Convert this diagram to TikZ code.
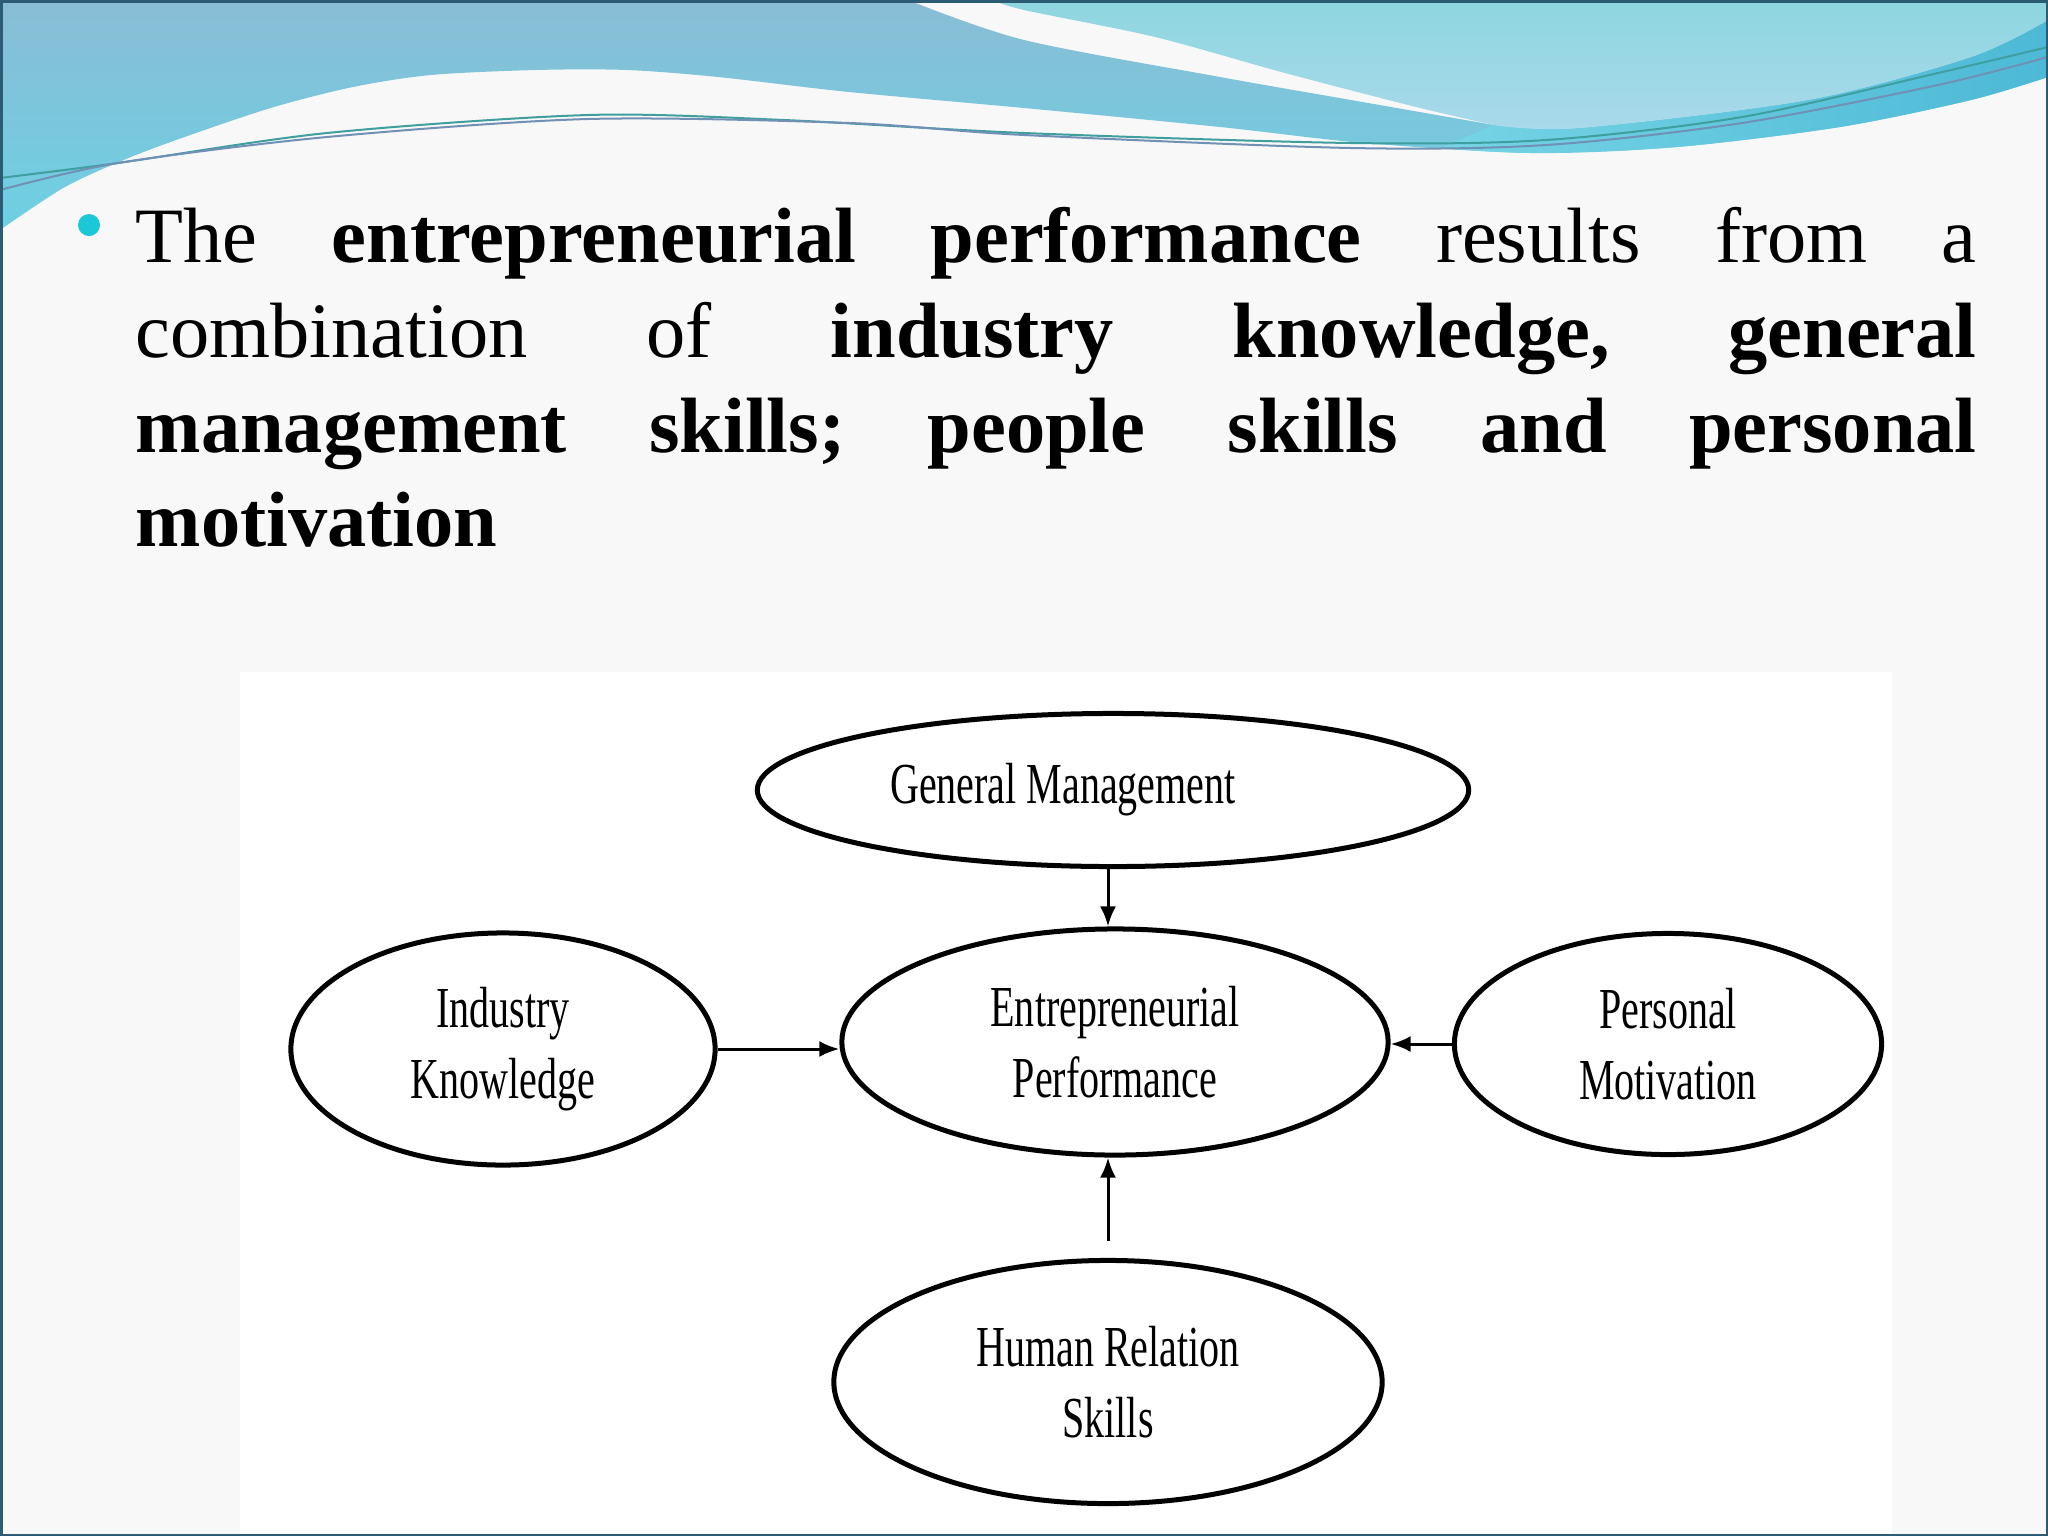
\documentclass[tikz,border=0pt]{standalone}
\usepackage{fontspec}
\setmainfont{Liberation Serif}
\newfontfamily\labelfont[FakeStretch=0.69]{Liberation Serif}
\usetikzlibrary{shapes.geometric,arrows.meta}
\frenchspacing
\definecolor{slidebg}{HTML}{F8F8F8}
\definecolor{framecol}{HTML}{2B5C73}
\definecolor{bandtop}{HTML}{89BDD5}
\definecolor{bandlow}{HTML}{6DD0E3}
\definecolor{fieldtop}{HTML}{8DD6DF}
\definecolor{fieldlow}{HTML}{AAD9EC}
\definecolor{stripleft}{HTML}{76D4E5}
\definecolor{stripright}{HTML}{4DB9D6}
\definecolor{linea}{HTML}{3F9E9E}
\definecolor{lineb}{HTML}{7090B5}
\definecolor{dotcyan}{HTML}{1CC8D8}
\tikzset{
  factor/.style={ellipse, draw, line width=0.05cm, inner sep=0pt, align=center,
    font=\labelfont\fontsize{16.5}{20}\selectfont},
  feeds/.style={line width=0.03cm, -{Latex[length=0.2cm,width=0.16cm]}}
}
\begin{document}
\begin{tikzpicture}[x=0.01cm,y=-0.01cm]
\useasboundingbox (0,0) rectangle (2048,1536);
\fill[slidebg] (0,0) rectangle (2048,1536);
% wave at the top
\shade[top color=bandtop, bottom color=bandlow] (0,0) -- (908,0)
  -- plot[smooth] coordinates {(908,0) (1024,40) (1220,77) (1351,100) (1494,125)}
  -- plot[smooth] coordinates {(1494,125) (1579,128) (1808,100) (1971,57) (2048,20)}
  -- (2048,77)
  -- plot[smooth] coordinates {(2048,77) (1971,100) (1840,127) (1677,147) (1533,153) (1364,143) (1220,127) (1024,108) (849,92) (718,77) (627,70) (536,70) (431,75) (353,87) (274,107) (196,133) (131,157) (65,187) (0,230)}
  -- cycle;
\shade[left color=stripleft, right color=stripright] (1494,125)
  -- plot[smooth] coordinates {(1494,125) (1579,128) (1808,100) (1971,57) (2048,20)}
  -- (2048,77)
  -- plot[smooth] coordinates {(2048,77) (1971,100) (1840,127) (1677,147) (1533,153) (1440,148)}
  -- cycle;
\shade[top color=fieldtop, bottom color=fieldlow] (993,0) -- (2048,0) -- (2048,20)
  -- plot[smooth] coordinates {(2048,20) (1971,57) (1808,100) (1579,128) (1494,125)}
  -- plot[smooth] coordinates {(1494,125) (1416,107) (1285,73) (1155,37) (1024,10) (993,0)}
  -- cycle;
\draw[linea, line width=0.02cm] plot[smooth] coordinates {(0,178) (118,163) (327,133) (588,115) (784,120) (1024,133) (1351,143) (1546,140) (1742,117) (1938,73) (2048,47)};
\draw[lineb, line width=0.02cm] plot[smooth] coordinates {(0,190) (118,163) (327,137) (588,119) (849,123) (1024,135) (1351,148) (1546,145) (1742,123) (1938,85) (2048,57)};
% bullet text
\node[circle, fill=dotcyan, inner sep=0pt, minimum size=0.22cm] (dot) at (89,225) {};
\node[anchor=north west, inner sep=0pt, text width=18.4cm, align=justify,
  font=\fontsize{22.3}{26.9}\selectfont] (claim) at (135,207)
  {The \textbf{entrepreneurial performance} results from a\linebreak
   combination of \textbf{industry knowledge, general\linebreak
   management skills; people skills and personal\linebreak
   motivation}};
% diagram
\fill[white] (240,672) rectangle (1892,1534);
\node[factor, minimum width=7.11cm, minimum height=1.53cm] (gm) at (1113,790) {\hspace*{-1cm}General Management};
\node[factor, minimum width=5.46cm, minimum height=2.26cm] (ep) at (1115,1042) {Entrepreneurial\\Performance};
\node[factor, minimum width=4.24cm, minimum height=2.32cm] (ik) at (503,1049) {Industry\\Knowledge};
\node[factor, minimum width=4.27cm, minimum height=2.21cm] (pm) at (1668,1044) {Personal\\Motivation};
\node[factor, minimum width=5.48cm, minimum height=2.43cm] (hrs) at (1108,1382) {Human Relation\\Skills};
\coordinate (hrstail) at (1108,1241);
\draw[feeds] (hrstail |- gm.south) -- (hrstail |- ep.north);
\draw[feeds] (ik.east) -- (ik.east -| ep.west);
\draw[feeds] (pm.west) -- (pm.west -| ep.east);
\draw[feeds] (hrstail) -- (hrstail |- ep.south);
\draw[framecol, line width=0.03cm] (1,1) rectangle (2047,1535);
\end{tikzpicture}
\end{document}
